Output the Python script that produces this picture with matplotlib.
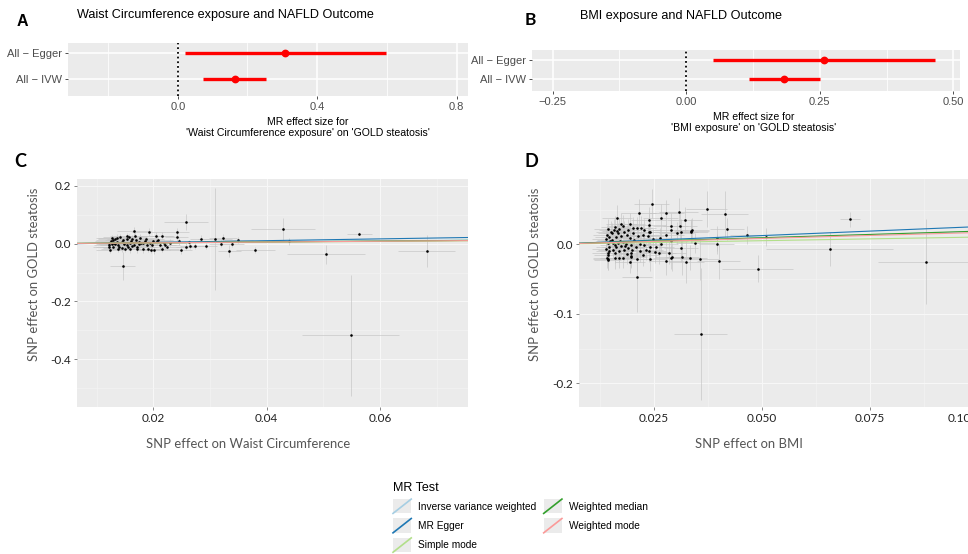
import matplotlib.pyplot as plt
from matplotlib.lines import Line2D
from matplotlib.patches import Rectangle
from matplotlib.legend_handler import HandlerBase
import numpy as np

# MR forest estimates (panel A: waist circumference, panel B: BMI)
forest_labels = ["All − Egger", "All − IVW"]
wc_est = [0.309, 0.163]
wc_lo = [0.021, 0.073]
wc_hi = [0.597, 0.253]
bmi_est = [0.258, 0.184]
bmi_lo = [0.050, 0.117]
bmi_hi = [0.465, 0.251]

# SNP effects, waist circumference -> GOLD steatosis
wc_bx = [0.0257, 0.0548, 0.0429, 0.0439, 0.0563, 0.0505, 0.0682, 0.0380, 0.0309, 0.0146,
         0.0334, 0.0350, 0.0339, 0.0320, 0.0323, 0.0284, 0.0292, 0.0274, 0.0246, 0.0248,
         0.0241, 0.0242, 0.0262, 0.0258, 0.0265, 0.0216, 0.0196, 0.0166, 0.0192, 0.0201,
         0.0216, 0.0229, 0.0221, 0.0206, 0.0209, 0.0205, 0.0187, 0.0177, 0.0178, 0.0182,
         0.0191, 0.0171, 0.0159, 0.0150, 0.0124, 0.0121, 0.0129, 0.0127, 0.0135, 0.0141,
         0.0153, 0.0162, 0.0144, 0.0132, 0.0138, 0.0153, 0.0165, 0.0174, 0.0182, 0.0194,
         0.0197, 0.0160, 0.0147, 0.0168, 0.0153, 0.0135, 0.0127, 0.0121, 0.0129, 0.0144,
         0.0155, 0.0171, 0.0200, 0.0212, 0.0218, 0.0224, 0.0133, 0.0140, 0.0148, 0.0158,
         0.0163, 0.0170, 0.0185, 0.0189, 0.0125, 0.0137, 0.0157, 0.0175, 0.0122, 0.0131]
wc_by = [0.0749, -0.3180, 0.0496, 0.0090, 0.0347, -0.0370, -0.0256, -0.0210, 0.0160, -0.0776,
         -0.0250, 0.0125, 0.0000, 0.0000, 0.0200, 0.0177, -0.0080, -0.0080, 0.0090, -0.0220,
         0.0240, 0.0416, 0.0040, -0.0100, -0.0090, 0.0280, -0.0220, 0.0426, 0.0410, -0.0232,
         -0.0170, 0.0035, -0.0060, 0.0090, 0.0110, 0.0260, 0.0155, 0.0200, 0.0010, -0.0200,
         -0.0170, -0.0130, -0.0200, -0.0170, -0.0220, -0.0130, 0.0120, 0.0195, 0.0200, 0.0220,
         0.0155, 0.0170, 0.0040, -0.0020, -0.0060, -0.0060, -0.0030, -0.0020, 0.0020, 0.0020,
         -0.0060, 0.0080, 0.0120, 0.0260, 0.0260, 0.0060, -0.0020, 0.0020, -0.0120, -0.0160,
         -0.0120, -0.0200, 0.0090, -0.0060, 0.0020, -0.0110, 0.0150, -0.0100, 0.0000, 0.0030,
         -0.0080, 0.0120, 0.0080, -0.0040, 0.0080, -0.0180, 0.0220, 0.0070, -0.0060, 0.0030]
wc_sx = [0.0039, 0.0085, 0.0056, 0.0030, 0.0022, 0.0069, 0.0050, 0.0035, 0.0030, 0.0022,
         0.0020, 0.0025, 0.0020, 0.0022, 0.0025, 0.0020, 0.0020, 0.0018, 0.0020, 0.0020,
         0.0020, 0.0020, 0.0018, 0.0018, 0.0018, 0.0020, 0.0020, 0.0030, 0.0030, 0.0028,
         0.0030, 0.0028, 0.0026, 0.0030, 0.0026, 0.0030, 0.0032, 0.0030, 0.0035, 0.0030,
         0.0028, 0.0035, 0.0032, 0.0030, 0.0026, 0.0028, 0.0030, 0.0028, 0.0032, 0.0030,
         0.0034, 0.0036, 0.0030, 0.0030, 0.0032, 0.0034, 0.0036, 0.0034, 0.0032, 0.0030,
         0.0030, 0.0036, 0.0032, 0.0034, 0.0030, 0.0030, 0.0028, 0.0026, 0.0030, 0.0032,
         0.0034, 0.0032, 0.0030, 0.0028, 0.0028, 0.0030, 0.0030, 0.0030, 0.0032, 0.0034,
         0.0034, 0.0034, 0.0032, 0.0030, 0.0028, 0.0030, 0.0032, 0.0034, 0.0026, 0.0028]
wc_sy = [0.028, 0.210, 0.040, 0.012, 0.006, 0.032, 0.057, 0.010, 0.177, 0.049,
         0.020, 0.010, 0.010, 0.012, 0.012, 0.012, 0.010, 0.010, 0.012, 0.015,
         0.014, 0.012, 0.010, 0.012, 0.010, 0.012, 0.012, 0.014, 0.014, 0.013,
         0.012, 0.012, 0.011, 0.012, 0.011, 0.013, 0.012, 0.013, 0.012, 0.012,
         0.012, 0.011, 0.012, 0.011, 0.010, 0.011, 0.012, 0.011, 0.012, 0.013,
         0.012, 0.012, 0.011, 0.010, 0.011, 0.012, 0.011, 0.012, 0.011, 0.012,
         0.011, 0.012, 0.011, 0.013, 0.012, 0.011, 0.010, 0.011, 0.011, 0.012,
         0.011, 0.012, 0.011, 0.012, 0.011, 0.012, 0.011, 0.011, 0.011, 0.012,
         0.011, 0.012, 0.012, 0.011, 0.010, 0.011, 0.012, 0.012, 0.010, 0.011]

# SNP effects, BMI -> GOLD steatosis
bmi_bx = [0.0703, 0.0879, 0.0657, 0.0490, 0.0465, 0.0509, 0.0358, 0.0372, 0.0414, 0.0419,
          0.0396, 0.0395, 0.0400, 0.0356, 0.0346, 0.0338, 0.0336, 0.0325, 0.0315, 0.0313,
          0.0313, 0.0310, 0.0321, 0.0307, 0.0289, 0.0289, 0.0290, 0.0292, 0.0279, 0.0279,
          0.0266, 0.0245, 0.0238, 0.0239, 0.0239, 0.0241, 0.0215, 0.0211, 0.0210, 0.0198,
          0.0164, 0.0144, 0.0143, 0.0238, 0.0175, 0.0195, 0.0211, 0.0221, 0.0228, 0.0242,
          0.0337, 0.0303, 0.0279, 0.0265, 0.0248, 0.0256, 0.0240, 0.0228, 0.0217, 0.0266,
          0.0252, 0.0261, 0.0285, 0.0333, 0.0289, 0.0195, 0.0170, 0.0143, 0.0141, 0.0143,
          0.0191, 0.0200, 0.0182, 0.0170, 0.0159, 0.0155, 0.0147, 0.0143, 0.0149, 0.0146,
          0.0141, 0.0154, 0.0157, 0.0161, 0.0170, 0.0178, 0.0182, 0.0188, 0.0175, 0.0163,
          0.0194, 0.0201, 0.0205, 0.0178, 0.0167, 0.0155, 0.0186, 0.0198, 0.0175, 0.0163,
          0.0209, 0.0188, 0.0147, 0.0217, 0.0224, 0.0232, 0.0198, 0.0178, 0.0159, 0.0224,
          0.0236, 0.0213, 0.0167, 0.0190, 0.0201, 0.0150, 0.0144, 0.0152, 0.0160, 0.0172,
          0.0184, 0.0139, 0.0139, 0.0165, 0.0196]
bmi_by = [0.0360, -0.0250, -0.0068, -0.0350, 0.0130, 0.0100, -0.1290, 0.0510, 0.0436, 0.0220,
          0.0086, 0.0004, -0.0245, -0.0207, 0.0020, 0.0200, 0.0180, -0.0250, -0.0187, -0.0049,
          0.0180, 0.0268, 0.0354, 0.0470, 0.0268, 0.0206, 0.0043, -0.0183, -0.0240, 0.0455,
          0.0380, 0.0584, 0.0350, 0.0175, -0.0089, -0.0207, 0.0455, -0.0475, -0.0210, -0.0180,
          0.0380, -0.0210, -0.0120, 0.0278, 0.0288, 0.0288, 0.0230, 0.0240, 0.0206, 0.0180,
          0.0196, 0.0158, 0.0134, 0.0086, 0.0076, -0.0045, -0.0035, -0.0005, 0.0007, 0.0007,
          -0.0106, -0.0120, -0.0120, -0.0190, -0.0190, -0.0250, -0.0193, -0.0226, -0.0193, -0.0154,
          -0.0058, -0.0080, -0.0086, -0.0100, -0.0126, -0.0076, -0.0035, 0.0014, 0.0050, 0.0100,
          0.0134, 0.0158, 0.0206, 0.0245, 0.0220, 0.0260, 0.0180, 0.0134, 0.0120, 0.0100,
          0.0086, 0.0158, 0.0060, 0.0033, 0.0019, 0.0014, 0.0007, -0.0005, -0.0020, -0.0045,
          -0.0035, -0.0135, -0.0100, -0.0100, -0.0154, -0.0080, -0.0170, -0.0190, -0.0200, 0.0134,
          0.0115, 0.0115, 0.0158, 0.0206, 0.0230, 0.0180, 0.0215, 0.0065, -0.0015, 0.0045,
          -0.0025, 0.0080, -0.0060, 0.0195, -0.0120]
bmi_sx = [0.0023, 0.0110, 0.0147, 0.0083, 0.0040, 0.0040, 0.0061, 0.0048, 0.0054, 0.0040,
          0.0045, 0.0040, 0.0050, 0.0045, 0.0045, 0.0040, 0.0040, 0.0040, 0.0040, 0.0040,
          0.0040, 0.0040, 0.0040, 0.0045, 0.0040, 0.0040, 0.0040, 0.0040, 0.0040, 0.0040,
          0.0040, 0.0040, 0.0040, 0.0040, 0.0040, 0.0040, 0.0040, 0.0035, 0.0035, 0.0035,
          0.0035, 0.0035, 0.0035, 0.0040, 0.0035, 0.0035, 0.0035, 0.0035, 0.0038, 0.0040,
          0.0040, 0.0040, 0.0040, 0.0040, 0.0040, 0.0040, 0.0040, 0.0038, 0.0036, 0.0040,
          0.0040, 0.0040, 0.0040, 0.0040, 0.0040, 0.0035, 0.0035, 0.0032, 0.0032, 0.0032,
          0.0035, 0.0035, 0.0035, 0.0034, 0.0034, 0.0034, 0.0032, 0.0032, 0.0032, 0.0032,
          0.0032, 0.0034, 0.0034, 0.0034, 0.0034, 0.0035, 0.0035, 0.0035, 0.0034, 0.0034,
          0.0035, 0.0036, 0.0036, 0.0035, 0.0034, 0.0034, 0.0035, 0.0035, 0.0034, 0.0034,
          0.0036, 0.0035, 0.0032, 0.0036, 0.0038, 0.0038, 0.0035, 0.0035, 0.0034, 0.0038,
          0.0038, 0.0036, 0.0034, 0.0035, 0.0036, 0.0033, 0.0033, 0.0033, 0.0034, 0.0034,
          0.0035, 0.0032, 0.0032, 0.0034, 0.0035]
bmi_sy = [0.011, 0.061, 0.024, 0.019, 0.013, 0.013, 0.095, 0.026, 0.033, 0.016,
          0.018, 0.015, 0.025, 0.030, 0.015, 0.018, 0.016, 0.030, 0.025, 0.020,
          0.018, 0.020, 0.018, 0.020, 0.018, 0.016, 0.018, 0.020, 0.020, 0.018,
          0.020, 0.021, 0.018, 0.016, 0.016, 0.018, 0.020, 0.050, 0.018, 0.016,
          0.018, 0.016, 0.016, 0.016, 0.016, 0.017, 0.016, 0.017, 0.016, 0.016,
          0.017, 0.016, 0.016, 0.015, 0.015, 0.015, 0.016, 0.015, 0.015, 0.015,
          0.016, 0.016, 0.017, 0.018, 0.017, 0.016, 0.015, 0.015, 0.015, 0.014,
          0.015, 0.015, 0.014, 0.015, 0.014, 0.014, 0.014, 0.014, 0.014, 0.015,
          0.015, 0.015, 0.016, 0.016, 0.016, 0.016, 0.015, 0.015, 0.015, 0.014,
          0.015, 0.015, 0.015, 0.014, 0.014, 0.014, 0.014, 0.015, 0.014, 0.014,
          0.015, 0.015, 0.014, 0.015, 0.016, 0.015, 0.015, 0.015, 0.015, 0.015,
          0.015, 0.015, 0.015, 0.016, 0.016, 0.015, 0.015, 0.014, 0.014, 0.014,
          0.014, 0.014, 0.014, 0.015, 0.015]

# MR regression lines (intercept, slope) per method
methods = ["Inverse variance weighted", "MR Egger", "Simple mode",
           "Weighted median", "Weighted mode"]
method_colors = ["#A6CEE3", "#1F78B4", "#B2DF8A", "#33A02C", "#FB9A99"]
wc_intercepts = [0.0, -0.002, 0.0, 0.0, 0.0]
wc_slopes = [0.163, 0.309, 0.130, 0.150, 0.140]
bmi_intercepts = [0.0, -0.0003, 0.0, 0.0, 0.0]
bmi_slopes = [0.184, 0.258, 0.105, 0.190, 0.170]

W, H = 968, 554
fig = plt.figure(figsize=(W / 100, H / 100), dpi=100)
ARIAL = "Liberation Sans"
CAL = "Lato"
BG = "#EBEBEB"


def add_ax(x0, y0, x1, y1):
    return fig.add_axes([x0 / W, 1 - y1 / H, (x1 - x0) / W, (y1 - y0) / H])


def forest(ax, est, lo, hi, xlim, ylim, major, minor, xlabel, label_x, label_y):
    rows = [2, 1]
    ax.set_facecolor(BG)
    for s in ax.spines.values():
        s.set_visible(False)
    ax.set_xlim(*xlim)
    ax.set_ylim(*ylim)
    ax.set_xticks(major)
    ax.set_xticks(minor, minor=True)
    ax.set_yticks(rows)
    ax.set_yticklabels(forest_labels, fontfamily=ARIAL)
    ax.grid(which="major", color="white", lw=1.1)
    ax.grid(which="minor", axis="x", color="white", lw=0.55)
    ax.set_axisbelow(True)
    ax.tick_params(which="major", length=2.5, width=0.6, color="#333333",
                   labelcolor="#4D4D4D", labelsize=8, pad=2)
    ax.tick_params(which="minor", length=0)
    ax.axvline(0, color="black", ls=(0, (1, 1.6)), lw=1.3)
    ax.hlines(rows, lo, hi, color="red", lw=2.4)
    ax.plot(est, rows, "o", color="red", ms=4.6)
    ax.set_xlabel(xlabel, fontfamily=ARIAL, fontsize=7.6, color="black",
                  linespacing=1.1)
    ax.xaxis.set_label_coords(label_x, label_y, transform=ax.transAxes)


def mr_scatter(ax, bx, by, sx, sy, ints, slopes, xlim, ylim, xmaj, xmin, ymaj, ymin,
               xfmt, yfmt, xlabel, label_x, ylab_x):
    bx, by, sx, sy = map(np.asarray, (bx, by, sx, sy))
    ax.set_facecolor(BG)
    for s in ax.spines.values():
        s.set_visible(False)
    ax.set_xlim(*xlim)
    ax.set_ylim(*ylim)
    ax.set_xticks(xmaj)
    ax.set_xticks(xmin, minor=True)
    ax.set_yticks(ymaj)
    ax.set_yticks(ymin, minor=True)
    ax.set_xticklabels([xfmt.format(v) for v in xmaj], fontfamily=CAL)
    ax.set_yticklabels([yfmt.format(v) for v in ymaj], fontfamily=CAL)
    ax.grid(which="major", color="#F7F7F7", lw=0.8)
    ax.grid(which="minor", color="#F3F3F3", lw=0.5)
    ax.set_axisbelow(True)
    ax.tick_params(which="major", length=2, width=0.5, color="#555555",
                   labelcolor="#222222", labelsize=8.5, pad=2)
    ax.tick_params(which="minor", length=0)
    ax.hlines(by, bx - sx, bx + sx, color="#C4C4C4", lw=0.45, zorder=2)
    ax.vlines(bx, by - sy, by + sy, color="#C4C4C4", lw=0.45, zorder=2)
    ax.scatter(bx, by, s=3.5, color="black", linewidths=0, zorder=3)
    for a, b, c in zip(ints, slopes, method_colors):
        ax.axline((0, a), slope=b, color=c, lw=0.8, zorder=4)
    ax.set_ylabel("SNP effect on GOLD steatosis", fontfamily=CAL, fontsize=9.4,
                  color="#555555")
    ax.set_xlabel(xlabel, fontfamily=CAL, fontsize=9.4, color="#555555")
    ax.xaxis.set_label_coords(label_x, -0.137, transform=ax.transAxes)
    ax.yaxis.set_label_coords(ylab_x, 0.58, transform=ax.transAxes)


# Panel A
ax_a = add_ax(68, 43, 468, 96)
forest(ax_a, wc_est, wc_lo, wc_hi, (-0.315, 0.833), (0.37, 2.37),
       [0.0, 0.4, 0.8], [-0.2, 0.2, 0.6],
       "MR effect size for\n'Waist Circumference exposure' on 'GOLD steatosis'",
       0.6, -0.4)
ax_a.set_xticklabels(["0.0", "0.4", "0.8"], fontfamily=ARIAL)
fig.text(77 / W, 1 - 15 / H, "Waist Circumference exposure and NAFLD Outcome",
         fontfamily=ARIAL, fontsize=9.1, va="center")
fig.text(22 / W, 1 - 21 / H, "A", fontfamily=ARIAL, fontsize=11.5,
         fontweight="bold", ha="center", va="center")

# Panel B
ax_b = add_ax(532, 50, 960, 91)
forest(ax_b, bmi_est, bmi_lo, bmi_hi, (-0.2885, 0.5125), (0.39, 2.52),
       [-0.25, 0.0, 0.25, 0.5], [-0.125, 0.125, 0.375],
       "MR effect size for\n'BMI exposure' on 'GOLD steatosis'", 0.517, -0.52)
ax_b.set_xticklabels(["−0.25", "0.00", "0.25", "0.50"], fontfamily=ARIAL)
fig.text(580 / W, 1 - 16 / H, "BMI exposure and NAFLD Outcome",
         fontfamily=ARIAL, fontsize=9.1, va="center")
fig.text(530 / W, 1 - 20 / H, "B", fontfamily=CAL, fontsize=12.5,
         fontweight="bold", ha="center", va="center")

# Panel C
ax_c = add_ax(77, 179, 468, 407)
mr_scatter(ax_c, wc_bx, wc_by, wc_sx, wc_sy, wc_intercepts, wc_slopes,
           (0.00653, 0.0755), (-0.566, 0.224),
           [0.02, 0.04, 0.06], [0.01, 0.03, 0.05, 0.07],
           [0.2, 0.0, -0.2, -0.4], [0.1, -0.1, -0.3, -0.5],
           "{:.2f}", "{:.1f}", "SNP effect on Waist Circumference", 0.438, -0.095)
fig.text(20 / W, 1 - 162 / H, "C", fontfamily=CAL, fontsize=13,
         fontweight="bold", ha="center", va="center")

# Panel D (right edge runs past the figure border)
ax_d = add_ax(579, 179, 985, 407)
mr_scatter(ax_d, bmi_bx, bmi_by, bmi_sx, bmi_sy, bmi_intercepts, bmi_slopes,
           (0.00768, 0.1016), (-0.234, 0.094),
           [0.025, 0.05, 0.075, 0.1], [0.0125, 0.0375, 0.0625, 0.0875],
           [0.0, -0.1, -0.2], [0.05, -0.05, -0.15],
           "{:.3f}", "{:.1f}", "SNP effect on BMI", 0.419, -0.093)
ax_d.get_xticklabels()[-1].set_horizontalalignment("right")
fig.text(531 / W, 1 - 162 / H, "D", fontfamily=CAL, fontsize=13,
         fontweight="bold", ha="center", va="center")


class KeyHandler(HandlerBase):
    def create_artists(self, legend, orig_handle, xdescent, ydescent, width,
                       height, fontsize, trans):
        box = Rectangle((-xdescent, -ydescent), width, height, facecolor=BG,
                        edgecolor="none", transform=trans)
        ln = Line2D([-xdescent, -xdescent + width], [-ydescent, -ydescent + height],
                    color=orig_handle.get_color(), lw=1.2, transform=trans)
        return [box, ln]


handles = [Line2D([], [], color=c) for c in method_colors]
leg = fig.legend(handles, methods, handler_map={Line2D: KeyHandler()},
                 loc="upper left", bbox_to_anchor=(393 / W, 1 - 482 / H),
                 ncol=2, frameon=False, title="MR Test", alignment="left",
                 prop={"family": ARIAL, "size": 7.3},
                 title_fontproperties={"family": ARIAL, "size": 9},
                 handlelength=1.8, handleheight=1.8, labelspacing=0.5,
                 handletextpad=0.65, columnspacing=0.75, borderpad=0,
                 borderaxespad=0)

fig.savefig("out.png", dpi=100)
